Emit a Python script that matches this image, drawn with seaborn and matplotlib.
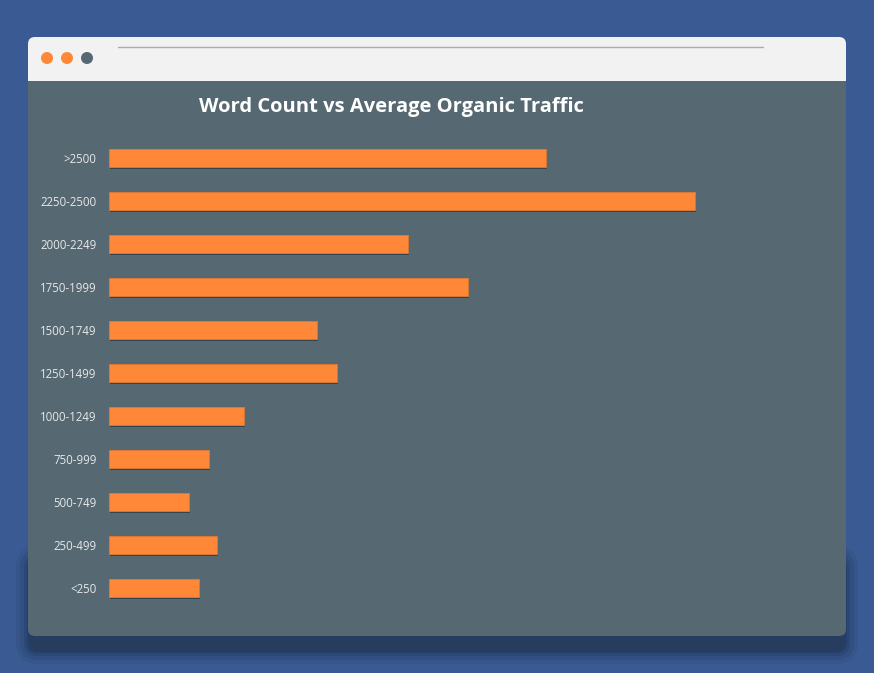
import matplotlib
matplotlib.use("Agg")
import matplotlib.pyplot as plt
import matplotlib.patheffects as pe
from matplotlib.patches import FancyBboxPatch, Circle
import pandas as pd
import seaborn as sns

# 数据
word_count = ['>2500', '2250-2500', '2000-2249', '1750-1999', '1500-1749', '1250-1499',
              '1000-1249', '750-999', '500-749', '250-499', '<250']
avg_traffic = [437, 586, 299, 359, 208, 228, 135, 100, 80, 108, 90]

df = pd.DataFrame({'word_count': word_count, 'traffic': avg_traffic})

sns.set_theme(style='white')
plt.rcParams['font.family'] = ['Open Sans', 'DejaVu Sans']

W, H = 874, 673
fig = plt.figure(figsize=(W / 100, H / 100), dpi=100)
fig.patch.set_facecolor('#3a5a93')

# 背景层：浏览器窗口（像素坐标）
bg = fig.add_axes([0, 0, 1, 1])
bg.set_xlim(0, W)
bg.set_ylim(H, 0)
bg.axis('off')

# 窗口阴影（外圈渐淡）
for grow, a in [(14, 0.12), (10, 0.18), (6, 0.28), (3, 0.4)]:
    bg.add_patch(FancyBboxPatch((30 - grow, 560 - grow), 814 + 2 * grow, 90 + 2 * grow,
                                boxstyle='round,pad=0,rounding_size=%d' % (8 + grow),
                                fc='#1f3458', ec='none', alpha=a))
bg.add_patch(FancyBboxPatch((30, 560), 814, 92, boxstyle='round,pad=0,rounding_size=8',
                            fc='#263d5f', ec='none'))
# 标题栏
bg.add_patch(FancyBboxPatch((28, 37), 818, 90, boxstyle='round,pad=0,rounding_size=7',
                            fc='#f2f2f2', ec='none'))
# 主面板
bg.add_patch(FancyBboxPatch((28, 81), 818, 555, boxstyle='round,pad=0,rounding_size=7',
                            fc='#566872', ec='none'))
bg.add_patch(plt.Rectangle((28, 81), 818, 20, fc='#566872', ec='none'))
# 三个圆点
for x, c in zip([47, 67, 87], ['#fe8838', '#fe8838', '#566872']):
    bg.add_patch(Circle((x, 58), 6, fc=c, ec='none'))
# 地址栏线
bg.plot([118, 763], [47, 47], color='#a8acad', lw=1)

# 条形图
ax = fig.add_axes([109 / W, 1 - 609.5 / H, 700 / W, 473 / H])
sns.barplot(data=df, y='word_count', x='traffic', orient='h', color='#fe8838',
            width=0.4, saturation=1, ax=ax, edgecolor='#e07a30', linewidth=0.6)
for p in ax.patches:
    p.set_path_effects([pe.SimplePatchShadow(offset=(1, -2), shadow_rgbFace='#2c3d4a', alpha=0.8),
                        pe.Normal()])
ax.set_xlim(0, 700)
ax.set_facecolor('none')
for s in ax.spines.values():
    s.set_visible(False)
ax.set_xticks([])
ax.set_xlabel('')
ax.set_ylabel('')
ax.tick_params(axis='y', length=0, pad=9, labelsize=8.3, labelcolor='#e6e8e9')

fig.text(391 / W, 1 - 107 / H, 'Word Count vs Average Organic Traffic', ha='center', va='center',
         color='white', fontsize=14.5, fontweight='bold')

fig.savefig('out.png', dpi=100, facecolor=fig.get_facecolor())
